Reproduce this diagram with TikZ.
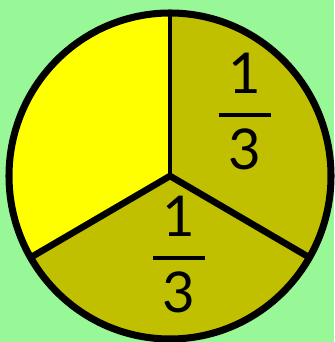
\documentclass[tikz,border=0pt]{standalone}
\usepackage{fontspec}
\setmainfont{Lato}
\usetikzlibrary{positioning}
\definecolor{bgGreen}{HTML}{98F898}
\definecolor{pieYellow}{HTML}{FFFF00}
\definecolor{pieOlive}{HTML}{C0C000}

\begin{document}
\begin{tikzpicture}[x=0.03cm,y=0.03cm,
    rim/.style={line width=6pt,black},
    spoke/.style={line width=5.6pt,black},
    fracbar/.style={line width=3.4pt,black},
    digit/.style={font=\fontsize{48}{48}\selectfont,inner sep=0pt}]
  \fill[bgGreen] (0,0) rectangle (334,342);
  \useasboundingbox (0,0) rectangle (334,342);
  \coordinate (hub) at (170,166);
  % the three sectors
  \foreach \a/\b/\c in {90/210/pieYellow, 210/330/pieOlive, -30/90/pieOlive}{%
    \fill[\c] (hub) -- ++(\a:161 and 163)
      arc[start angle=\a,end angle=\b,x radius=161,y radius=163] -- cycle;
  }
  \draw[spoke,line width=3.8pt] (hub) -- ++(90:161 and 163);
  \draw[spoke] (hub) -- ++(210:161 and 163);
  \draw[spoke] (hub) -- ++(330:161 and 163);
  \draw[rim] (hub) ellipse[x radius=161,y radius=163];
  % labels
  \foreach \n/\x/\y in {R/245/227, B/179/84}{%
    \coordinate (bar\n) at (\x,\y);
    \node[digit,above=0.63cm of bar\n] (num\n) {1};
    \node[digit,below=0.42cm of bar\n] (den\n) {3};
    \draw[fracbar] ([xshift=-0.78cm]bar\n) -- ([xshift=0.78cm]bar\n);
  }
\end{tikzpicture}
\end{document}
